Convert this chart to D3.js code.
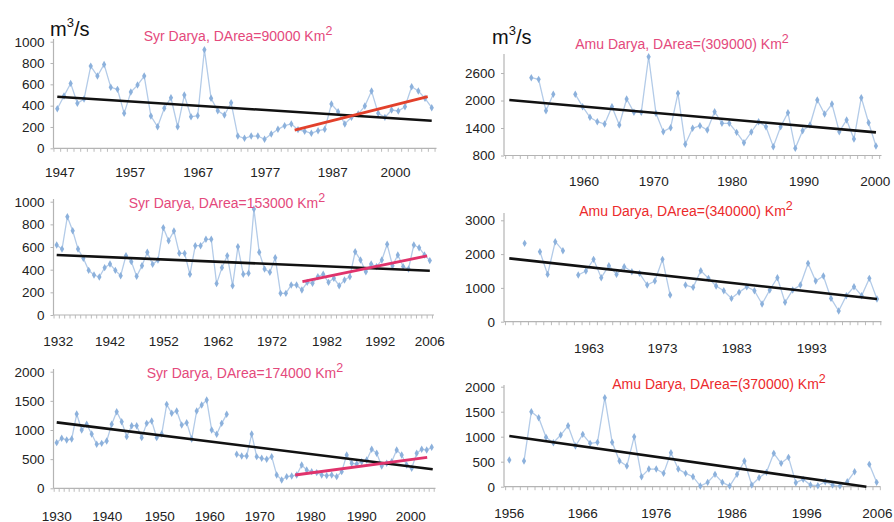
<!DOCTYPE html>
<html><head><meta charset="utf-8">
<script src="https://cdn.jsdelivr.net/npm/d3@7"></script>
<style>
body{margin:0;background:#fff}
svg{display:block;font-family:"Liberation Sans",Arial,Helvetica,sans-serif}
</style>
</head><body>
<svg id="chart" width="894" height="522"></svg>
<script>
// ---------------- DATA ----------------
// Syr Darya, DArea = 90000 km2 (1947 onwards)
const syr90Flow = [371,490,609,422,462,771,678,787,572,553,328,528,593,678,303,202,375,474,202,500,
  296,305,925,469,352,312,427,115,94,115,115,84,134,178,212,228,175,160,141,165,
  178,415,343,228,290,321,396,537,328,290,359,350,390,577,537,469,381];
const syr90Labels = ["1947","1957","1967","1977","1987","2000"];
const syr90LabelPos = [0.4,10.9,21.1,31.1,41.2,50.6];
const syr90Trend = [[0,484],[56,259]];
const syr90Recent = [[35.5,171],[55.4,484]];
const syr90YTicks = [0,200,400,600,800,1000];

// Syr Darya, DArea = 153000 km2 (1932 onwards)
const syr153Flow = [618,582,868,744,582,500,394,353,335,418,450,394,347,524,471,341,435,553,447,485,
  771,656,741,544,544,359,612,612,668,668,277,418,524,259,603,359,368,935,553,406,
  377,506,191,191,265,265,221,288,280,338,359,288,324,259,309,338,559,485,382,450,
  427,485,624,435,530,427,406,618,594,530,480];
const syr153Labels = ["1932","1942","1952","1962","1972","1982","1992","2006"];
const syr153LabelPos = [0.3,10,20.1,30.3,40.4,50.7,60.7,70];
const syr153Trend = [[0,530],[70,391]];
const syr153Recent = [[46.1,294],[69.5,521]];
const syr153YTicks = [0,200,400,600,800,1000];

// Syr Darya, DArea = 174000 km2 (1930 onwards)
const syr174Flow = [783,857,829,846,1274,1000,1097,931,754,771,811,1097,1314,1143,886,1074,1074,869,1114,1154,
  869,931,1440,1286,1326,1086,1126,846,1326,1429,1514,1000,926,1114,1269,null,583,554,554,931,
  543,514,497,543,229,143,200,211,229,400,314,286,269,229,217,229,200,286,571,429,
  417,457,486,669,600,383,429,457,657,571,400,343,600,669,657,703];
const syr174Labels = ["1930","1940","1950","1960","1970","1980","1990","2000"];
const syr174LabelPos = [0,10.1,20.6,30.6,40.6,50.8,61,70.8];
const syr174Trend = [[0,1131],[75.2,326]];
const syr174Recent = [[47.7,228],[74.1,531]];
const syr174YTicks = [0,500,1000,1500,2000];

// Amu Darya, DArea = 309000 km2 (1950 - 2000)
const amu309Flow = [null,null,null,2498,2462,1778,2135,null,null,2135,1866,1633,1538,1487,1866,1465,2033,1742,1742,2956,
  1720,1320,1407,2156,1044,1393,1451,1356,1756,1502,1502,1305,1080,1313,1538,1429,993,1429,1735,956,
  1342,1465,2011,1705,1924,1320,1575,1160,2062,1516,1007];
const amu309Labels = ["1960","1970","1980","1990","2000"];
const amu309LabelPos = [10.2,19.7,30.4,40.2,49.9];
const amu309Trend = [[0,2011],[50,1305]];
const amu309YTicks = [800,1400,2000,2600];

// Amu Darya, DArea = 340000 km2
const amu340Flow = [null,null,2318,null,2071,1400,2367,2101,null,1381,1499,1844,1302,1657,1400,1627,1479,1430,1085,1203,
  1844,789,null,1085,1016,1509,1282,1055,917,690,868,1036,917,523,937,1302,572,937,1085,1726,
  1203,1351,690,316,769,1036,769,1282,671];
const amu340Labels = ["1963","1973","1983","1993"];
const amu340LabelPos = [10.4,20,29.7,39.5];
const amu340Trend = [[0,1874],[48,671]];
const amu340YTicks = [0,1000,2000,3000];

// Amu Darya, DArea = 370000 km2 (1956 - 2006)
const amu370Flow = [533,null,513,1500,1380,987,880,1033,1220,813,1047,867,887,1780,887,513,413,1000,200,353,
  353,267,680,353,267,200,13,87,247,87,13,247,513,33,180,287,667,467,587,80,
  147,33,20,100,33,13,100,300,null,447,87];
const amu370Labels = ["1956","1966","1976","1986","1996","2006"];
const amu370LabelPos = [0,10,20,30.3,40.5,50.1];
const amu370Trend = [[0,1013],[48.6,0]];
const amu370YTicks = [0,500,1000,1500,2000];

// ---------------- LAYOUT ----------------
const PINK = "#e4497c", RED = "#ec2a2c";
const panels = [
  {flow:syr90Flow, labels:syr90Labels, labelPos:syr90LabelPos, trend:syr90Trend, recent:syr90Recent, recentColor:"#e2402b",
   yTicks:syr90YTicks, yDomain:[0,1000], yRange:[148.3,41.7], x0:57.3, step:6.686, axisX:53.5, axisEnd:436.5, axisTop:39,
   labelY:177, title:"Syr Darya, DArea=90000 Km", titleColor:PINK, titleX:238, titleY:41},
  {flow:syr153Flow, labels:syr153Labels, labelPos:syr153LabelPos, trend:syr153Trend, recent:syr153Recent, recentColor:"#e0336c",
   yTicks:syr153YTicks, yDomain:[0,1000], yRange:[315,201.7], x0:56.7, step:5.33, axisX:53.5, axisEnd:434, axisTop:199,
   labelY:346, title:"Syr Darya, DArea=153000 Km", titleColor:PINK, titleX:227, titleY:208},
  {flow:syr174Flow, labels:syr174Labels, labelPos:syr174LabelPos, trend:syr174Trend, recent:syr174Recent, recentColor:"#e0336c",
   yTicks:syr174YTicks, yDomain:[0,2000], yRange:[488.3,371.7], x0:56.7, step:5, axisX:53.5, axisEnd:435.5, axisTop:369,
   labelY:520.5, title:"Syr Darya, DArea=174000 Km", titleColor:PINK, titleX:245, titleY:378},
  {flow:amu309Flow, labels:amu309Labels, labelPos:amu309LabelPos, trend:amu309Trend, recent:null,
   yTicks:amu309YTicks, yDomain:[800,3000], yRange:[155.5,54.7], x0:509.3, step:7.333, axisX:504, axisEnd:881.5, axisTop:54,
   labelY:186, title:"Amu Darya, DArea=(309000) Km", titleColor:PINK, titleX:682, titleY:49},
  {flow:amu340Flow, labels:amu340Labels, labelPos:amu340LabelPos, trend:amu340Trend, recent:null,
   yTicks:amu340YTicks, yDomain:[0,3000], yRange:[321.7,220.3], x0:509.3, step:7.66, axisX:504, axisEnd:881.5, axisTop:213,
   labelY:352.5, title:"Amu Darya, DArea=(340000) Km", titleColor:RED, titleX:686, titleY:216},
  {flow:amu370Flow, labels:amu370Labels, labelPos:amu370LabelPos, trend:amu370Trend, recent:null,
   yTicks:amu370YTicks, yDomain:[0,2000], yRange:[486.7,386.7], x0:509.3, step:7.347, axisX:504, axisEnd:880.5, axisTop:385,
   labelY:518, title:"Amu Darya, DArea=(370000) Km", titleColor:RED, titleX:719, titleY:389}
];

const svg = d3.select("#chart");
const AXIS = "#b4b4b4";

panels.forEach(p => {
  const n = p.flow.length;
  const x = d3.scaleLinear().domain([0, n - 1]).range([p.x0, p.x0 + (n - 1) * p.step]);
  const y = d3.scaleLinear().domain(p.yDomain).range(p.yRange);
  const g = svg.append("g");

  // y axis
  g.append("line").attr("x1", p.axisX).attr("x2", p.axisX)
    .attr("y1", p.axisTop).attr("y2", y(p.yDomain[0]))
    .attr("stroke", AXIS).attr("stroke-width", 1.2);
  const yAxis = d3.axisLeft(y).tickValues(p.yTicks).tickSize(3).tickPadding(6).tickFormat(d3.format("d"));
  const ya = g.append("g").attr("transform", `translate(${p.axisX},0)`).call(yAxis);
  ya.select(".domain").remove();
  ya.selectAll(".tick line").attr("stroke", AXIS);
  ya.selectAll(".tick text").attr("fill", "#222").style("font-size", "13.5px")
    .style("font-family", "'Liberation Sans',Arial,sans-serif");

  // x axis with category ticks
  const baseY = y(p.yDomain[0]);
  g.append("line").attr("x1", p.axisX).attr("x2", p.axisEnd).attr("y1", baseY).attr("y2", baseY)
    .attr("stroke", AXIS).attr("stroke-width", 1.2);
  const tickIdx = d3.range(-0.5, n + 0.5, 1).filter(i => x(i) >= p.axisX && x(i) <= p.axisEnd);
  g.selectAll(".ct").data(tickIdx).join("line")
    .attr("x1", d => x(d)).attr("x2", d => x(d)).attr("y1", baseY).attr("y2", baseY + 3.5)
    .attr("stroke", AXIS).attr("stroke-width", 0.9);
  g.selectAll(".xl").data(p.labels).join("text")
    .attr("x", (d, i) => x(p.labelPos[i])).attr("y", p.labelY)
    .attr("text-anchor", "middle").attr("fill", "#222").style("font-size", "13.5px").text(d => d);

  // data line
  const line = d3.line().defined(d => d.v != null).x(d => x(d.i)).y(d => y(d.v));
  const pts = p.flow.map((v, i) => ({i, v}));
  g.append("path").datum(pts).attr("d", line).attr("fill", "none")
    .attr("stroke", "#b3cbe8").attr("stroke-width", 1.3);
  g.selectAll(".mk").data(pts.filter(d => d.v != null)).join("path")
    .attr("d", d3.symbol(d3.symbolDiamond).size(16))
    .attr("transform", d => `translate(${x(d.i)},${y(d.v)})`)
    .attr("fill", "#8cb1dc");

  // trend lines
  const tl = d3.line().x(d => x(d[0])).y(d => y(d[1]));
  g.append("path").datum(p.trend).attr("d", tl).attr("stroke", "#111").attr("stroke-width", 2.6).attr("fill", "none");
  if (p.recent) {
    g.append("path").datum(p.recent).attr("d", tl).attr("stroke", p.recentColor).attr("stroke-width", 2.8).attr("fill", "none");
  }

  // title
  const t = g.append("text").attr("x", p.titleX).attr("y", p.titleY).attr("text-anchor", "middle")
    .attr("fill", p.titleColor).style("font-size", "14px");
  t.append("tspan").text(p.title);
  t.append("tspan").attr("dy", -6).style("font-size", "12.5px").text("2");
});

// unit labels
[[50, 36], [492, 44]].forEach(([ux, uy]) => {
  const t = svg.append("text").attr("x", ux).attr("y", uy).attr("fill", "#111").style("font-size", "20px");
  t.append("tspan").text("m");
  t.append("tspan").attr("dy", -9).style("font-size", "13px").text("3");
  t.append("tspan").attr("dy", 9).text("/s");
});
</script>
</body></html>
